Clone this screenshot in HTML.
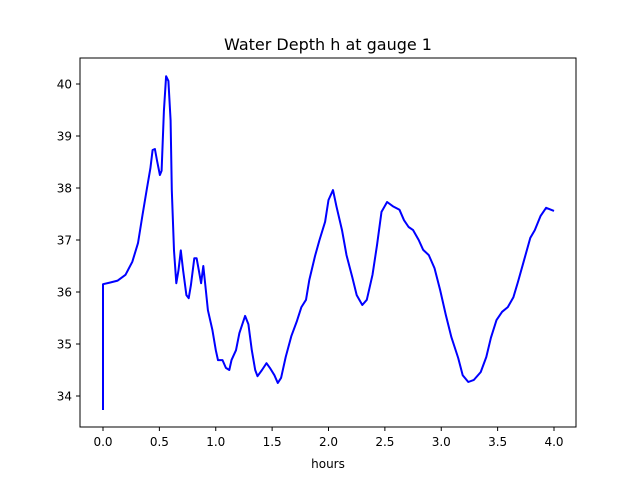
<!DOCTYPE html>
<html><head><meta charset="utf-8"><style>
html,body{margin:0;padding:0;background:#fff;}
svg{display:block;font-family:"DejaVu Sans","Liberation Sans",sans-serif;}
</style></head><body>
<svg id="chart" width="640" height="480" viewBox="0 0 640 480" xmlns="http://www.w3.org/2000/svg">
<rect width="640" height="480" fill="#fff"/>
<text x="328" y="50" text-anchor="middle" font-size="16">Water Depth h at gauge 1</text>
<g id="plot"></g>
<rect x="80" y="58" width="496" height="369" fill="none" stroke="#000" stroke-width="1"/>
<text x="328" y="468" text-anchor="middle" font-size="12">hours</text>
</svg>
<script>
const xs=[0,0,0.06,0.13,0.2,0.26,0.31,0.35,0.39,0.42,0.44,0.46,0.48,0.505,0.52,0.54,0.56,0.58,0.60,0.61,0.63,0.65,0.67,0.69,0.71,0.74,0.76,0.78,0.81,0.83,0.85,0.87,0.89,0.91,0.93,0.97,1.0,1.02,1.06,1.09,1.12,1.14,1.18,1.21,1.26,1.29,1.32,1.35,1.37,1.41,1.45,1.48,1.52,1.55,1.58,1.62,1.67,1.72,1.76,1.8,1.83,1.88,1.92,1.97,2.0,2.04,2.07,2.12,2.16,2.21,2.25,2.3,2.34,2.39,2.43,2.47,2.52,2.57,2.63,2.67,2.71,2.75,2.8,2.84,2.89,2.94,2.99,3.04,3.09,3.15,3.19,3.24,3.29,3.35,3.4,3.44,3.49,3.54,3.59,3.64,3.68,3.73,3.79,3.83,3.88,3.93,4.0];
const ys=[33.73,36.15,36.18,36.22,36.33,36.58,36.94,37.48,38.0,38.38,38.73,38.75,38.52,38.25,38.33,39.48,40.15,40.06,39.3,37.96,36.8,36.17,36.42,36.8,36.42,35.94,35.88,36.13,36.65,36.65,36.42,36.17,36.5,36.08,35.65,35.27,34.88,34.69,34.69,34.54,34.5,34.69,34.88,35.21,35.54,35.38,34.88,34.5,34.38,34.5,34.63,34.54,34.4,34.25,34.35,34.75,35.15,35.44,35.71,35.85,36.23,36.69,37.0,37.35,37.77,37.96,37.65,37.19,36.71,36.29,35.94,35.75,35.85,36.33,36.9,37.54,37.73,37.65,37.58,37.38,37.25,37.19,37.0,36.81,36.71,36.46,36.04,35.56,35.13,34.73,34.4,34.27,34.31,34.46,34.75,35.12,35.46,35.62,35.71,35.9,36.19,36.58,37.04,37.19,37.46,37.62,37.56];
const xTicks=[0,0.5,1,1.5,2,2.5,3,3.5,4];
const xTickLabels=["0.0","0.5","1.0","1.5","2.0","2.5","3.0","3.5","4.0"];
const yTicks=[34,35,36,37,38,39,40];
const yTickLabels=["34","35","36","37","38","39","40"];

const X=v=>103+v*112.75;
const Y=v=>396-(v-34)*52;
const NS="http://www.w3.org/2000/svg";
const svg=document.getElementById('chart');
const plot=document.getElementById('plot');
function mk(t,a){const e=document.createElementNS(NS,t);for(const k in a)e.setAttribute(k,a[k]);return e;}

xTicks.forEach((t,i)=>{
  const l=mk('line',{x1:X(t),x2:X(t),y1:427,y2:431,stroke:'#000'});
  
  
  svg.appendChild(l);
  const tx=mk('text',{x:X(t),y:446,'text-anchor':'middle','font-size':'12'});
  
  
  tx.textContent=xTickLabels[i];svg.appendChild(tx);
});
yTicks.forEach((t,i)=>{
  const l=mk('line',{x1:76,x2:80,y1:Y(t),y2:Y(t),stroke:'#000'});
  
  
  svg.appendChild(l);
  const tx=mk('text',{x:72,y:Y(t)+4.5,'text-anchor':'end','font-size':'12'});
  
  
  tx.textContent=yTickLabels[i];svg.appendChild(tx);
});
const pts=xs.map((x,i)=>X(x).toFixed(1)+','+Y(ys[i]).toFixed(1)).join(' ');
const pl=mk('polyline',{points:pts,fill:'none',stroke:'#0000ff','stroke-width':'2','stroke-linejoin':'round'});


plot.appendChild(pl);
</script>
</body></html>
